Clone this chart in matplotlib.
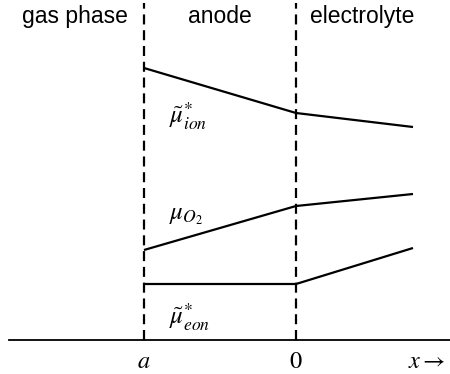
import matplotlib
matplotlib.use('Agg')
import matplotlib.pyplot as plt

plt.rcParams['mathtext.fontset'] = 'stix'

# positions along x: gas/anode boundary (a), anode/electrolyte boundary (0), electrolyte end
x_pts = [-152, 0, 117]

# potential levels (arbitrary units, 0 = bottom axis)
mu_ion = [272, 227, 213]
mu_o2 = [90, 134, 146]
mu_eon = [56, 56, 92]

regions = ['gas phase', 'anode', 'electrolyte']
region_x = [-221, -76, 66]
tick_labels = ['$a$', '$0$']

fig = plt.figure(figsize=(4.5, 3.74), dpi=100)
ax = fig.add_axes([0, 0, 1, 1])
ax.set_xlim(-296, 154)
ax.set_ylim(-34, 340)
ax.axis('off')

# boundaries
for xb in x_pts[:2]:
    ax.plot([xb, xb], [0, 337], color='k', lw=1.6, dashes=(4.5, 2.6))

# bottom axis
ax.plot([-287, 154], [0, 0], color='k', lw=1.3)

for ys in (mu_ion, mu_o2, mu_eon):
    ax.plot(x_pts, ys, color='k', lw=1.6, solid_capstyle='butt')

for name, xc in zip(regions, region_x):
    ax.text(xc, 324, name, ha='center', va='center', fontsize=16.5,
            family='Liberation Sans')

ax.text(-127, 224, r'$\tilde{\mu}^{*}_{ion}$', fontsize=18, ha='left', va='center')
ax.text(-127, 125, r'$\mu_{O_2}$', fontsize=18, ha='left', va='center')
ax.text(-127, 23, r'$\tilde{\mu}^{*}_{eon}$', fontsize=18, ha='left', va='center')

for xt, lab in zip(x_pts[:2], tick_labels):
    ax.text(xt, -21, lab, fontsize=17.5, ha='center', va='center')
ax.text(131, -21, r'$x \rightarrow$', fontsize=17.5, ha='center', va='center')

fig.savefig('out.png', dpi=100)
